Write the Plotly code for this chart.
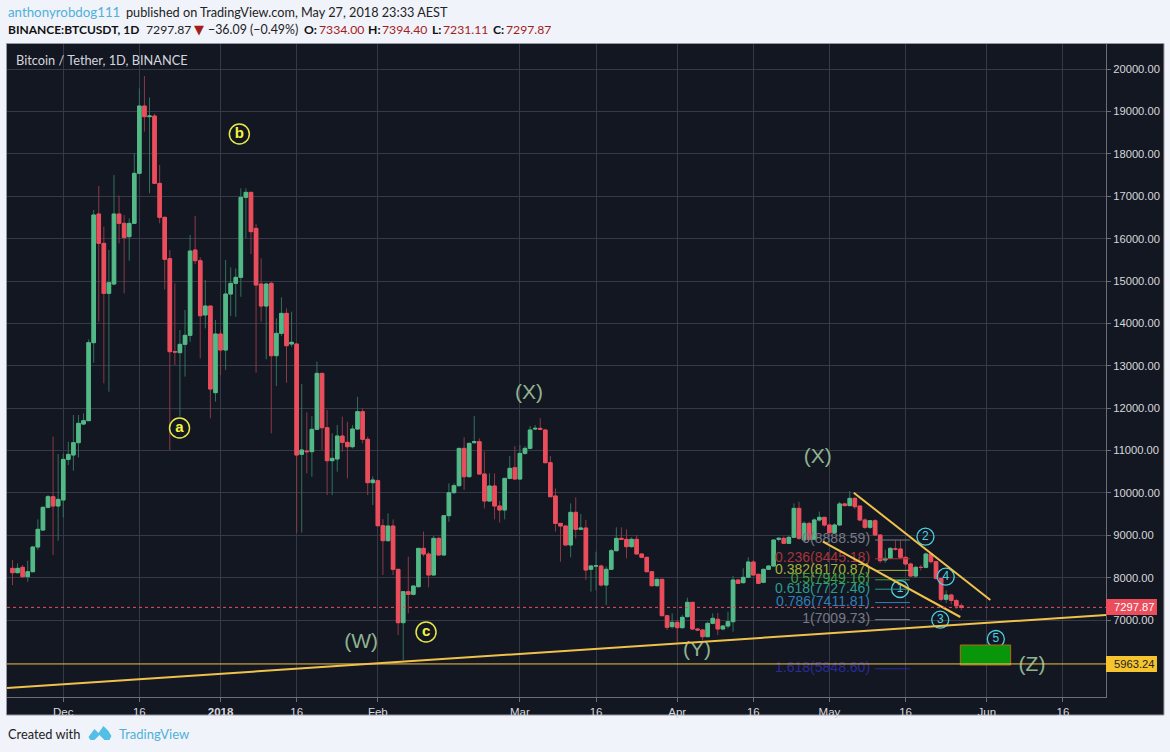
import pandas as pd
import plotly.graph_objects as go

# daily candles: open, high, low, close (2017-11-21 .. 2018-05-27)
candles = [
    (8219, 8416, 7826, 8117), (8117, 8337, 8100, 8219), (8243, 8300, 8010, 8022), (8022, 8400, 7905, 8140),
    (8140, 8750, 8140, 8723), (8723, 9375, 8650, 9140), (9124, 9680, 9100, 9659), (9659, 9950, 9635, 9910),
    (9910, 11327, 8534, 9690), (9690, 10917, 8872, 9847), (9832, 10917, 9423, 10791), (10791, 11208, 10658, 10909),
    (10894, 11838, 10524, 11185), (11185, 11838, 10839, 11641), (11625, 11877, 11600, 11704), (11704, 13624, 11704, 13545),
    (13545, 16676, 13073, 16558), (16582, 17242, 14040, 15889), (15889, 16283, 12585, 14709), (14709, 15732, 12388, 14961),
    (14930, 17500, 14900, 16582), (16582, 17014, 15889, 16361), (16361, 16558, 14709, 16023), (16047, 16479, 15480, 16361),
    (16361, 18013, 16361, 17541), (17541, 19547, 17541, 19130), (19130, 19838, 18525, 18879), (18879, 19335, 17070, 18894),
    (18894, 18950, 17305, 17305), (17305, 17738, 16361, 16503), (16503, 16520, 14800, 15512), (15527, 15732, 11012, 13333),
    (13333, 14945, 13018, 13325), (13309, 13844, 11800, 13506), (13506, 14316, 12743, 13718), (13718, 16086, 13568, 15708),
    (15732, 16534, 15400, 15480), (15480, 15559, 13175, 14182), (14198, 15024, 13883, 14410), (14410, 14410, 11759, 12451),
    (12365, 14080, 12153, 13750), (13750, 13850, 12782, 13372), (13372, 15496, 12900, 14694), (14694, 15323, 14174, 14945),
    (14945, 15299, 14158, 15087), (15087, 17187, 14630, 16975), (16975, 17187, 16007, 17093), (17093, 17093, 15638, 16165),
    (16243, 16345, 12837, 14906), (14930, 15535, 14040, 14410), (14410, 14960, 13152, 14930), (14945, 14984, 11405, 13238),
    (13238, 14119, 12522, 13765), (13765, 14615, 13700, 14237), (14237, 14355, 12601, 13474), (13514, 14277, 13450, 13553),
    (13514, 13514, 9061, 10894), (10910, 12570, 9061, 11012), (10988, 11901, 10461, 10973), (10973, 11814, 10382, 11500),
    (11500, 13097, 11480, 12821), (12821, 12821, 11012, 11539), (11539, 11956, 9950, 10760), (10760, 11405, 9950, 10815),
    (10800, 11602, 10500, 11342), (11342, 11798, 10973, 11193), (11193, 11680, 10343, 11090), (11090, 11600, 11050, 11507),
    (11507, 12270, 11480, 11917), (11917, 11995, 11170, 11264), (11264, 11327, 9950, 10241), (10241, 10390, 9714, 10304),
    (10288, 10320, 9200, 9226), (9226, 9380, 8062, 8872), (8872, 9517, 8850, 9218), (9218, 9375, 8062, 8196),
    (8196, 8196, 6646, 6937), (6937, 7669, 6056, 7669), (7669, 8494, 7157, 7606), (7606, 7802, 7580, 7802),
    (7786, 8691, 7770, 8691), (8691, 9085, 8500, 8557), (8557, 8610, 7771, 8062), (8062, 8982, 8062, 8927),
    (8927, 8966, 8534, 8534), (8534, 9462, 8534, 9462), (9462, 10225, 9320, 10005), (10005, 10225, 9980, 10170),
    (10170, 11060, 10150, 11051), (11051, 11311, 10068, 10383), (10383, 11190, 10360, 11169), (11185, 11814, 11160, 11209),
    (11209, 11287, 10445, 10445), (10445, 10973, 9635, 9808), (9808, 10461, 9790, 10162), (10162, 10461, 9375, 9690),
    (9690, 9810, 9297, 9596), (9596, 10343, 9375, 10343), (10343, 10870, 10320, 10579), (10595, 11106, 10327, 10327),
    (10327, 11130, 10300, 10933), (10933, 11100, 10900, 11051), (11051, 11578, 11030, 11484), (11507, 11600, 11480, 11523),
    (11523, 11759, 11480, 11500), (11484, 11500, 10700, 10713), (10713, 10870, 9910, 9910), (9926, 10107, 9085, 9281),
    (9281, 9290, 8376, 9218), (9218, 9240, 8770, 8770), (8770, 9753, 8479, 9541), (9541, 9895, 8927, 9140),
    (9140, 9502, 9120, 9171), (9171, 9360, 7944, 8180), (8196, 8300, 7669, 8274), (8274, 8612, 7700, 8280),
    (8274, 8310, 7790, 7826), (7826, 8260, 7354, 8196), (8196, 8680, 8180, 8636), (8636, 9187, 8620, 8927),
    (8927, 9187, 8890, 8904), (8904, 9140, 8455, 8731), (8731, 8950, 8710, 8904), (8904, 9006, 8558, 8558),
    (8558, 8570, 8460, 8479), (8479, 8490, 8130, 8140), (8140, 8160, 7790, 7810), (7810, 7980, 7790, 7960),
    (7960, 7960, 7102, 7102), (7102, 7120, 6764, 6827), (6843, 7157, 6800, 6945), (6945, 7000, 6489, 6819),
    (6819, 7120, 6800, 7063), (7079, 7527, 7060, 7417), (7417, 7417, 6760, 6788), (6788, 6810, 6750, 6764),
    (6764, 6780, 6528, 6607), (6607, 6960, 6590, 6921), (6921, 7157, 6900, 7039), (7016, 7170, 6646, 6788),
    (6788, 6880, 6760, 6858), (6858, 7197, 6800, 6961), (6961, 8038, 6725, 7944), (7944, 7960, 7850, 7865),
    (7881, 8220, 7860, 8007), (8007, 8479, 8000, 8369), (8369, 8415, 8062, 8062), (8078, 8090, 7865, 7865),
    (7889, 8210, 7870, 8196), (8196, 8290, 8180, 8274), (8274, 8890, 8274, 8888), (8904, 8960, 8850, 8927),
    (8927, 8970, 8800, 8809), (8809, 8990, 8790, 8951), (8951, 9753, 8940, 9635), (9635, 9793, 8888, 8927),
    (8888, 9330, 8850, 9281), (9281, 9320, 8880, 8904), (8904, 9400, 8890, 9360), (9360, 9560, 9320, 9423),
    (9423, 9423, 9200, 9242), (9242, 9280, 9040, 9061), (9061, 9280, 9040, 9242), (9242, 9790, 9230, 9740),
    (9740, 9770, 9680, 9700), (9700, 10044, 9680, 9871), (9871, 9900, 9620, 9675), (9690, 9700, 9330, 9360),
    (9360, 9400, 9150, 9187), (9187, 9360, 9150, 9344), (9344, 9380, 8980, 9006), (9006, 9030, 8350, 8400),
    (8416, 8660, 8350, 8455), (8455, 8720, 8440, 8691), (8676, 8880, 8640, 8676), (8676, 8880, 8440, 8479),
    (8479, 8500, 8280, 8322), (8322, 8350, 8020, 8038), (8038, 8280, 8000, 8243), (8243, 8300, 8170, 8240),
    (8243, 8590, 8220, 8558), (8558, 8580, 8330, 8377), (8377, 8400, 7950, 7983), (7983, 8000, 7440, 7488),
    (7488, 7700, 7400, 7590), (7590, 7620, 7370, 7460), (7460, 7500, 7260, 7334), (7334, 7394.40, 7231.11, 7297.87),
]
df = pd.DataFrame(candles, columns=["open", "high", "low", "close"])
df["date"] = pd.date_range("2017-11-21", periods=len(df), freq="D")

# fib retracement levels: ratio, price, colour
fibs = [
    ("0", 8888.59, "#787b86"),
    ("0.236", 8445.18, "#a8343a"),
    ("0.382", 8170.87, "#a5b13c"),
    ("0.5", 7949.16, "#3f9e3f"),
    ("0.618", 7727.46, "#2a9d8f"),
    ("0.786", 7411.81, "#2f7fb5"),
    ("1", 7009.73, "#787b86"),
    ("1.618", 5848.60, "#2a2a9c"),
]

# wave labels
wave_x = ["2018-03-02 19:00", "2018-04-28 17:00", "2018-01-28 17:00", "2018-04-04 22:00", "2018-06-09 22:00"]
wave_y = [12334, 10823, 6457, 6268, 5914]
wave_text = ["(X)", "(X)", "(W)", "(Y)", "(Z)"]

yellow_x = ["2017-12-23 22:00", "2018-01-04 17:00", "2018-02-10 12:00"]
yellow_y = [11531, 18470, 6717]
yellow_text = ["a", "b", "c"]

cyan_x = ["2018-05-14 22:00", "2018-05-19 22:00", "2018-05-22 20:00", "2018-05-23 22:00", "2018-06-02 19:00"]
cyan_y = [7732, 8966, 7007, 8022, 6552]
cyan_text = ["1", "2", "3", "4", "5"]

L, R, T, B = 6.5, 1106, 44, 697  # plot area in pixels


def px(x):
    return (x - L) / (R - L)


def py(y):
    return (B - y) / (B - T)


fig = go.Figure()

# dim wicks first, then the bodies again on top in full colour
fig.add_trace(go.Candlestick(
    x=df["date"], open=df["open"], high=df["high"], low=df["low"], close=df["close"],
    increasing=dict(line=dict(color="#33705c", width=1), fillcolor="#53b987"),
    decreasing=dict(line=dict(color="#8a3a46", width=1), fillcolor="#eb4d5c"),
    whiskerwidth=0,
))
fig.add_trace(go.Candlestick(
    x=df["date"], open=df["open"], close=df["close"],
    high=df[["open", "close"]].max(axis=1), low=df[["open", "close"]].min(axis=1),
    increasing=dict(line=dict(color="#53b987", width=1), fillcolor="#53b987"),
    decreasing=dict(line=dict(color="#eb4d5c", width=1), fillcolor="#eb4d5c"),
    whiskerwidth=0,
))

# fib level text and its short line
for name, price, color in fibs:
    fig.add_trace(go.Scatter(
        x=["2018-05-09 00:00"], y=[price], mode="text", text=[f"{name}({price:.2f})"],
        textposition="middle left", textfont=dict(family="Liberation Sans", size=14, color=color),
    ))
    fig.add_shape(type="line", x0="2018-05-10", x1="2018-05-16 20:00", y0=price, y1=price,
                  line=dict(color=color, width=1))

fig.add_trace(go.Scatter(
    x=wave_x, y=wave_y, mode="text", text=wave_text,
    textfont=dict(family="Liberation Sans", size=21, color="#8fb38f"),
))
fig.add_trace(go.Scatter(
    x=yellow_x, y=yellow_y, mode="markers+text", text=yellow_text, textposition="middle center",
    marker=dict(size=20, color="#131722", line=dict(color="#e8e84a", width=1.5)),
    textfont=dict(family="Liberation Sans", size=15, color="#f5f53c", weight="bold"),
))
fig.add_trace(go.Scatter(
    x=cyan_x, y=cyan_y, mode="markers+text", text=cyan_text, textposition="middle center",
    marker=dict(size=17, color="rgba(19,23,34,0)", line=dict(color="#4dd0e1", width=1.3)),
    textfont=dict(family="Liberation Sans", size=12, color="#4dd0e1"),
))

# target box first so the yellow line crosses it
fig.add_shape(type="rect", x0="2018-05-26 19:00", x1="2018-06-05 17:00", y0=5938, y1=6410,
              fillcolor="#0a960a", line=dict(color="#b5651d", width=1))

# trend lines
gold = "#f0c24b"
fig.add_shape(type="line", x0="2017-11-19 22:00", y0=5395, x1="2018-06-24 12:00", y1=7118, line=dict(color=gold, width=2))
fig.add_shape(type="line", x0="2017-11-19 22:00", y0=5963.24, x1="2018-06-24 12:00", y1=5963.24, line=dict(color=gold, width=1))
fig.add_shape(type="line", x0="2018-05-05 19:00", y0=10004, x1="2018-06-01 17:00", y1=7472, line=dict(color=gold, width=2))
fig.add_shape(type="line", x0="2018-04-29 17:00", y0=8848, x1="2018-05-26 19:00", y1=7071, line=dict(color=gold, width=2))
fig.add_shape(type="line", x0="2017-11-19 22:00", y0=7297.87, x1="2018-06-24 12:00", y1=7297.87,
              line=dict(color="#eb4d5c", width=1, dash="dot"))

# dark panel behind plot and axes
fig.add_shape(type="rect", xref="paper", yref="paper", x0=px(6), x1=px(1164), y0=py(715), y1=py(43.5),
              fillcolor="#131722", line=dict(color="#9598a1", width=1), layer="below")

# last price boxes
fig.add_shape(type="rect", xref="paper", yref="paper", x0=px(1106), x1=px(1157), y0=py(615), y1=py(599),
              fillcolor="#eb4d5c", line=dict(width=0))
fig.add_shape(type="rect", xref="paper", yref="paper", x0=px(1106), x1=px(1157), y0=py(672), y1=py(656),
              fillcolor="#f5c42e", line=dict(width=0))

# logo: cloud with a zigzag cut out of it
logo = [(88, 737), (94, 729), (98, 733), (103, 726), (108, 731), (111, 736), (109, 740), (104, 740),
        (99, 735), (94, 740), (90, 740)]
path = "M " + " L ".join(f"{px(a):.5f},{py(b):.5f}" for a, b in logo) + " Z"
fig.add_shape(type="path", xref="paper", yref="paper", path=path, fillcolor="#53bfe6", line=dict(width=0))


def label(x, y, text, color, size=13, family="Lato", anchor="left"):
    fig.add_annotation(xref="paper", yref="paper", x=px(x), y=py(y), text=text, showarrow=False,
                       xanchor=anchor, yanchor="middle", font=dict(family=family, size=size, color=color), borderpad=0)


label(6, 12, "anthonyrobdog111", "#4fb0d9", 13.3)
label(125, 12, "published on TradingView.com, May 27, 2018 23:33 AEST", "#222222", 12.7)
label(6, 30, "<b>BINANCE:BTCUSDT, 1D</b>", "#111111", 12)
label(145, 30, "7297.87", "#222222", 12.2)
label(193, 30, "▼", "#a51c1c", 13, "DejaVu Sans")
label(207, 30, "−36.09 (−0.49%)", "#222222", 12.4)
for x0, tag, x1, value in [(303, "O:", 318, "7334.00"), (367, "H:", 381, "7394.40"),
                           (431, "L:", 442, "7231.11"), (492, "C:", 505, "7297.87")]:
    label(x0, 30, f"<b>{tag}</b>", "#111111", 12.2)
    label(x1, 30, value, "#a51c1c", 12.2)
label(15, 60, "Bitcoin / Tether, 1D, BINANCE", "#d4d6dc", 12.8)
label(6, 734, "Created with", "#222222", 12.8)
label(118, 734, "TradingView", "#4fb0d9", 13)
label(1113, 607, "7297.87", "#ffffff", 11.2, "Liberation Sans")
label(1113, 664, "5963.24", "#222222", 11.2, "Liberation Sans")

fig.update_layout(
    width=1170, height=752,
    margin=dict(l=L, r=1170 - R, t=T, b=752 - B, pad=0),
    paper_bgcolor="#f0f3fa",
    plot_bgcolor="#131722",
    showlegend=False,
    boxmode="overlay",
    boxgap=0.3,
    boxgroupgap=0,
    xaxis=dict(
        range=["2017-11-19 22:00", "2018-06-24 12:00"],
        rangeslider=dict(visible=False),
        tickmode="array",
        tickvals=["2017-12-01", "2017-12-16", "2018-01-01", "2018-01-16", "2018-02-01", "2018-03-01", "2018-03-16",
                  "2018-04-01", "2018-04-16", "2018-05-01", "2018-05-16", "2018-06-01", "2018-06-16"],
        ticktext=["Dec", "16", "<b>2018</b>", "16", "Feb", "Mar", "16", "Apr", "16", "May", "16", "Jun", "16"],
        tickfont=dict(family="Liberation Sans", size=11.5, color="#d6d8dc"),
        ticks="outside", ticklen=4, tickcolor="#6b6e78",
        gridcolor="#363a47", gridwidth=1, showline=True, linecolor="#6b6e78", linewidth=1,
    ),
    yaxis=dict(
        side="right",
        range=[5183, 20594],
        tickmode="array",
        tickvals=list(range(7000, 21000, 1000)),
        tickformat=".2f",
        tickfont=dict(family="Liberation Sans", size=11.2, color="#d6d8dc"),
        ticks="outside", ticklen=4, tickcolor="#6b6e78",
        gridcolor="#363a47", gridwidth=1, showline=True, linecolor="#6b6e78", linewidth=1,
        zeroline=False,
    ),
)

fig.write_html("out.html", config=dict(displayModeBar=False),
               post_script="document.body.style.margin='0';document.body.style.background='#f0f3fa';")
